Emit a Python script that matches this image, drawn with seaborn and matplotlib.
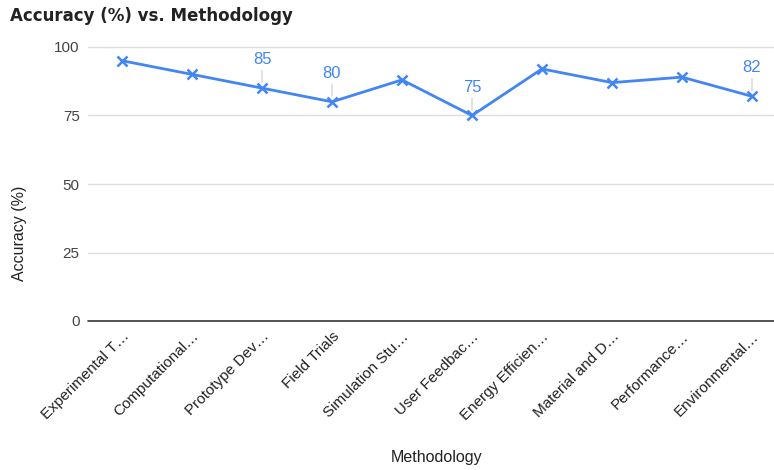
import matplotlib
matplotlib.use("Agg")
import matplotlib.pyplot as plt
import matplotlib.transforms as mtransforms
import seaborn as sns
import pandas as pd

methods = ["Experimental T…", "Computational…", "Prototype Dev…", "Field Trials",
           "Simulation Stu…", "User Feedbac…", "Energy Efficien…", "Material and D…",
           "Performance…", "Environmental…"]
accuracy = [95, 90, 85, 80, 88, 75, 92, 87, 89, 82]
labeled_idx = [2, 3, 5, 9]
y_ticks = [0, 25, 50, 75, 100]

sns.set_theme(style="white")
plt.rcParams['font.family'] = ['Liberation Sans', 'DejaVu Sans']

df = pd.DataFrame({"x": range(len(methods)), "y": accuracy})

fig = plt.figure(figsize=(7.74, 4.70), dpi=100)
ax = fig.add_axes([88/774, 1-321/470, 1-88/774, (321-47)/470])

blue = "#4285F4"
sns.lineplot(data=df, x="x", y="y", ax=ax, color=blue, linewidth=2,
             marker="x", markersize=7, markeredgewidth=1.8, markeredgecolor=blue)

ax.set_ylim(0, 100)
ax.set_xlim(-34/70, (774-122)/70)
ax.set_yticks(y_ticks)
ax.set_yticklabels([str(t) for t in y_ticks], color="#444444", fontsize=11)
ax.set_xticks(range(len(methods)))
ax.set_xticklabels(methods, rotation=45, ha="right", rotation_mode="anchor",
                   fontsize=11, color="#222222")
offset = mtransforms.ScaledTranslation(-18/100, -8/100, fig.dpi_scale_trans)
for lbl in ax.get_xticklabels():
    lbl.set_transform(lbl.get_transform() + offset)

ax.tick_params(axis="both", length=0, pad=6)
for t in ax.get_yticks():
    ax.axhline(t, color="#333333" if t == 0 else "#dddddd",
               linewidth=1.2 if t == 0 else 1, zorder=0, clip_on=False)
for s in ax.spines.values():
    s.set_visible(False)

for i in labeled_idx:
    v = accuracy[i]
    ax.annotate(str(v), xy=(i, v), xytext=(0, 15), textcoords="offset points",
                ha="center", va="bottom", color=blue, fontsize=12,
                arrowprops=dict(arrowstyle="-", color="#cccccc", lw=0.8,
                                shrinkA=0, shrinkB=4))

ax.set_xlabel("Methodology", fontsize=11.5, color="#222222")
ax.xaxis.set_label_coords((437-88)/686, (321-450)/274)
ax.set_ylabel("Accuracy (%)", fontsize=11.5, color="#222222")
ax.yaxis.set_label_coords((27-88)/686, (321-233)/274)
fig.text(10/774, 1-16/470, "Accuracy (%) vs. Methodology", fontsize=12,
         fontweight="bold", color="#222222", va="center", ha="left",
         family="DejaVu Sans")

fig.savefig("out.png", dpi=100)
